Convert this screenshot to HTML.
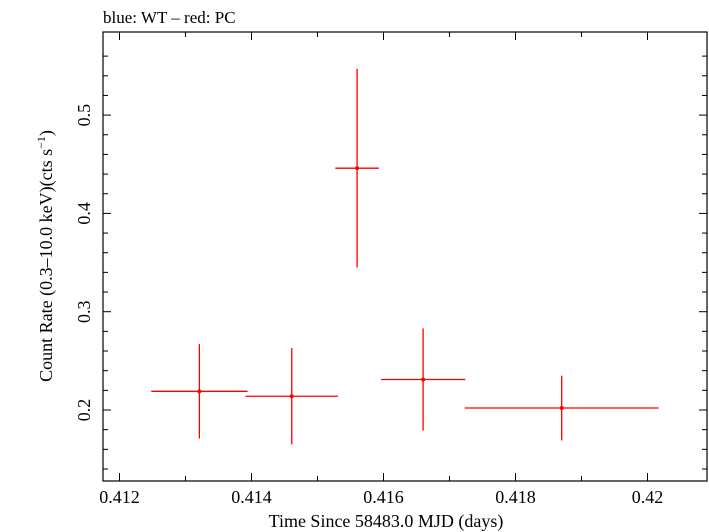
<!DOCTYPE html>
<html><head><meta charset="utf-8"><style>
body{margin:0;background:#fff;}
svg{display:block;font-family:"Liberation Serif",serif;}
</style></head><body>
<svg id="chart" width="709" height="532">
<text x="103" y="23" font-size="17">blue: WT – red: PC</text>
<rect x="103" y="32" width="604" height="449" fill="none" stroke="#000" stroke-width="1.2"/>
<g id="ticks"></g>
<g id="marks"></g>
<text x="386" y="527" font-size="18" text-anchor="middle">Time Since 58483.0 MJD (days)</text>
<text transform="translate(52,256) rotate(-90)" font-size="18" text-anchor="middle">Count Rate (0.3–10.0 keV)(cts s<tspan baseline-shift="super" font-size="12">−1</tspan>)</text>
</svg>
<script>
const xVals=[0.41321,0.41461,0.41560,0.41660,0.41870];
const xErr=[0.00073,0.00070,0.00033,0.00064,0.00147];
const yVals=[0.219,0.214,0.446,0.231,0.202];
const yErr=[0.048,0.049,0.101,0.052,0.033];
const xTicks=[0.412,0.414,0.416,0.418,0.42];
const xTickLabels=["0.412","0.414","0.416","0.418","0.42"];
const yTicks=[0.2,0.3,0.4,0.5];
const yTickLabels=["0.2","0.3","0.4","0.5"];
const L=103,R=707,T=32,B=481;
function sx(v){return 119.5+(v-0.412)*66000;}
function sy(v){return 410-(v-0.2)*983;}
const NS="http://www.w3.org/2000/svg";
function mk(tag,attrs,parent){const e=document.createElementNS(NS,tag);for(const k in attrs)e.setAttribute(k,attrs[k]);parent.appendChild(e);return e;}
const tg=document.getElementById('ticks');
for(let v=0.412;v<=0.4205;v+=0.001){const x=sx(v);const major=Math.abs(Math.round(v*1000)%2)===0;const len=major?8:5;
 const t1=mk('line',{x1:x,x2:x,y1:B,y2:B-len,stroke:'#000'},tg);
 
 
 const t2=mk('line',{x1:x,x2:x,y1:T,y2:T+len,stroke:'#000'},tg);
 
 }
for(let v=0.14;v<=0.58;v+=0.02){const y=sy(v);if(y<T||y>B)continue;const major=Math.abs(Math.round(v*100))%10===0;const len=major?8:5;
 const t1=mk('line',{x1:L,x2:L+len,y1:y,y2:y,stroke:'#000'},tg);
 
 
 const t2=mk('line',{x1:R,x2:R-len,y1:y,y2:y,stroke:'#000'},tg);
 
 }
xTicks.forEach((v,i)=>{const t=mk('text',{x:sx(v),y:503,'font-size':18,'text-anchor':'middle'},tg);t.textContent=xTickLabels[i];
 
 });
yTicks.forEach((v,i)=>{const t=mk('text',{transform:`translate(90,${sy(v)}) rotate(-90)`,'font-size':18,'text-anchor':'middle'},tg);t.textContent=yTickLabels[i];
 
 });
const mg=document.getElementById('marks');
xVals.forEach((xv,i)=>{const g=mk('g',{},mg);
 
 
 const x=sx(xv),y=sy(yVals[i]);
 mk('line',{x1:sx(xv-xErr[i]),x2:sx(xv+xErr[i]),y1:y,y2:y,stroke:'#f00','stroke-width':1.3},g);
 mk('line',{x1:x,x2:x,y1:sy(yVals[i]+yErr[i]),y2:sy(yVals[i]-yErr[i]),stroke:'#f00','stroke-width':1.3},g);
 mk('circle',{cx:x,cy:y,r:2,fill:'#f00'},g);});
</script>
</body></html>
